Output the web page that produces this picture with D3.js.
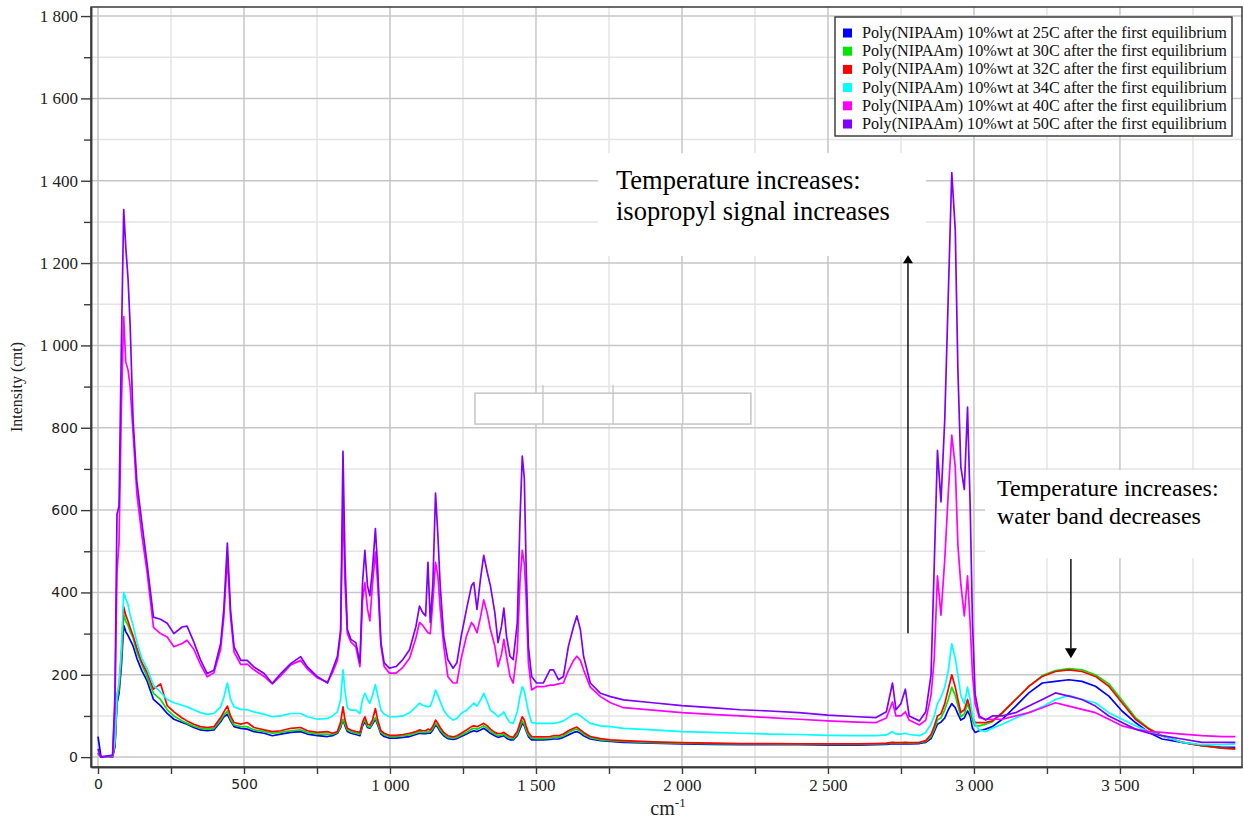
<!DOCTYPE html>
<html>
<head>
<meta charset="utf-8">
<script src="https://cdn.jsdelivr.net/npm/d3@7"></script>
<style>
  body { margin: 0; background: #fff; }
  svg { display: block; }
</style>
</head>
<body>
<svg id="chart" width="1244" height="819"></svg>
<script>
// Raman shift (cm-1) at which every spectrum below is sampled
const wavenumbers = [
  0, 10, 50, 58, 65, 72, 80, 88, 95, 103,
  110, 120, 133, 150, 168, 190, 214, 237, 260, 288,
  305, 328, 351, 374, 397, 420, 431, 443, 454, 466,
  489, 511, 534, 569, 597, 626, 660, 694, 717, 752,
  786, 803, 820, 831, 839, 846, 854, 866, 883, 897,
  906, 914, 923, 931, 940, 950, 958, 969, 980, 998,
  1021, 1044, 1067, 1089, 1101, 1112, 1122, 1130, 1138, 1147,
  1156, 1164, 1172, 1184, 1198, 1216, 1229, 1244, 1262, 1279,
  1287, 1298, 1310, 1321, 1333, 1344, 1359, 1370, 1382, 1390,
  1399, 1411, 1422, 1436, 1445, 1453, 1460, 1466, 1474, 1485,
  1502, 1525, 1548, 1560, 1577, 1594, 1611, 1629, 1640, 1652,
  1663, 1686, 1721, 1755, 1800, 1900, 2000, 2100, 2200, 2300,
  2400, 2500, 2600, 2665, 2700, 2721, 2733, 2750, 2765, 2778,
  2813, 2835, 2853, 2864, 2875, 2887, 2900, 2912, 2924, 2936,
  2945, 2955, 2967, 2978, 2987, 2995, 3004, 3018, 3040, 3063,
  3097, 3143, 3188, 3234, 3279, 3325, 3370, 3416, 3462, 3507,
  3553, 3599, 3644, 3713, 3781, 3850, 3895
];

// Intensity (cnt), one array per temperature
const intensity25C = [
  50, 2, 0, 25, 130, 155, 220, 320, 305, 295,
  285, 270, 240, 210, 185, 140, 125, 106, 92, 84,
  80, 72, 66, 64, 66, 86, 98, 104, 88, 74,
  70, 68, 62, 58, 52, 56, 60, 62, 56, 52,
  50, 52, 58, 72, 90, 76, 62, 58, 55, 52,
  76, 86, 72, 70, 80, 92, 78, 56, 50, 46,
  46, 48, 50, 55, 58, 57, 57, 58, 58, 66,
  78, 72, 62, 52, 45, 43, 45, 50, 56, 62,
  64, 62, 66, 70, 64, 58, 52, 48, 50, 52,
  46, 42, 42, 52, 68, 82, 76, 64, 50, 42,
  42, 42, 43, 44, 44, 48, 54, 60, 62, 58,
  52, 44, 40, 38, 36, 34, 32, 31, 30, 30,
  30, 29, 29, 30, 31, 33, 32, 32, 33, 32,
  33, 36, 45, 62, 80, 85, 95, 115, 130, 120,
  105, 90, 95, 112, 100, 70, 60, 64, 68, 74,
  92, 124, 156, 180, 184, 188, 184, 172, 148, 112,
  84, 60, 44, 36, 28, 24, 24
];
const intensity30C = [
  8, 0, 2, 30, 140, 165, 240, 345, 330, 320,
  305, 290, 255, 225, 195, 155, 140, 115, 100, 88,
  82, 75, 70, 68, 70, 90, 102, 112, 92, 78,
  74, 74, 66, 62, 58, 60, 64, 66, 60, 56,
  56, 55, 60, 75, 92, 80, 66, 62, 58, 56,
  80, 90, 75, 72, 84, 96, 82, 60, 54, 50,
  50, 52, 54, 58, 62, 60, 60, 62, 62, 70,
  82, 76, 66, 56, 48, 46, 48, 54, 60, 68,
  70, 68, 72, 76, 70, 62, 56, 52, 54, 56,
  50, 46, 45, 56, 74, 88, 80, 68, 54, 46,
  45, 45, 46, 48, 48, 52, 60, 66, 68, 62,
  56, 47, 42, 40, 38, 35, 34, 33, 32, 32,
  31, 31, 31, 32, 33, 35, 34, 34, 35, 34,
  35, 38, 50, 68, 90, 95, 115, 140, 170, 150,
  125, 98, 105, 130, 110, 88, 76, 76, 80, 86,
  106, 140, 172, 198, 210, 215, 212, 200, 178, 138,
  96, 70, 52, 36, 28, 22, 20
];
const intensity32C = [
  10, 0, 2, 30, 150, 170, 250, 365, 345, 330,
  315, 295, 265, 230, 205, 165, 178, 125, 110, 95,
  88, 80, 74, 72, 74, 96, 110, 124, 100, 84,
  80, 84, 72, 66, 62, 64, 70, 72, 64, 60,
  62, 58, 62, 85, 122, 90, 70, 66, 62, 60,
  85, 98, 80, 78, 90, 118, 90, 64, 58, 53,
  53, 55, 58, 62, 66, 64, 64, 68, 66, 75,
  90, 82, 72, 60, 52, 49, 52, 58, 66, 74,
  76, 74, 78, 82, 76, 68, 60, 57, 58, 60,
  55, 50, 48, 62, 82, 98, 90, 76, 60, 50,
  49, 49, 50, 52, 52, 56, 64, 70, 73, 66,
  60, 50, 45, 42, 40, 37, 35, 34, 33, 33,
  32, 32, 32, 33, 34, 36, 35, 35, 36, 35,
  36, 40, 55, 75, 100, 105, 130, 165, 200, 170,
  140, 108, 115, 140, 118, 95, 84, 84, 84, 88,
  108, 140, 172, 196, 208, 212, 208, 196, 172, 132,
  92, 68, 52, 36, 28, 22, 20
];
const intensity34C = [
  10, 0, 2, 40, 150, 180, 260, 400, 385, 370,
  345, 320, 280, 240, 215, 175, 158, 140, 132, 126,
  122, 115, 108, 104, 106, 122, 145, 180, 140, 122,
  116, 115, 110, 104, 98, 100, 106, 106, 98, 92,
  94, 100, 110, 140, 212, 160, 120, 114, 114, 106,
  140, 155, 140, 131, 150, 176, 150, 114, 104, 98,
  98, 100, 108, 122, 131, 126, 124, 122, 124, 140,
  163, 150, 135, 114, 100, 90, 94, 106, 114, 125,
  131, 124, 138, 155, 135, 114, 106, 98, 104, 110,
  96, 84, 82, 110, 147, 171, 160, 139, 110, 84,
  82, 82, 82, 82, 84, 88, 96, 104, 106, 100,
  94, 82, 76, 74, 70, 66, 62, 60, 58, 56,
  55, 53, 52, 52, 54, 62, 56, 56, 58, 55,
  52, 60, 80, 100, 130, 145, 170, 210, 275, 240,
  200, 150, 130, 170, 140, 100, 80, 66, 62, 70,
  80, 95, 108, 122, 140, 150, 140, 132, 108, 92,
  76, 62, 52, 36, 30, 30, 32
];
const intensity40C = [
  10, 0, 3, 120, 450, 520, 850, 1070, 960, 940,
  900, 790, 640, 540, 450, 315, 300, 292, 268, 276,
  284, 262, 225, 195, 205, 262, 340, 485, 340, 255,
  225, 226, 212, 196, 178, 198, 224, 235, 214, 192,
  182, 205, 235, 300, 624, 420, 300, 280, 268, 220,
  380, 424, 360, 331, 420, 498, 420, 270, 220, 204,
  204, 218, 240, 290, 327, 320, 310, 302, 300, 380,
  473, 440, 360, 270, 196, 180, 180, 240, 294, 327,
  320, 302, 340, 382, 350, 310, 270, 220, 250, 286,
  245, 196, 180, 260, 424, 502, 470, 392, 229, 163,
  171, 171, 175, 175, 178, 180, 210, 235, 245, 235,
  212, 170, 147, 132, 120, 114, 108, 104, 100, 96,
  92, 88, 85, 84, 95, 134, 100, 100, 110, 90,
  78, 90, 150, 240, 440, 345, 480, 640, 782, 705,
  515, 420, 343, 440, 324, 200, 130, 96, 92, 92,
  92, 100, 108, 120, 132, 124, 116, 108, 92, 76,
  68, 62, 60, 56, 52, 50, 50
];
const intensity50C = [
  20, 0, 5, 150, 590, 610, 1000, 1330, 1240, 1160,
  1050, 820, 670, 570, 470, 340, 335, 325, 300, 316,
  318, 280, 236, 203, 211, 276, 360, 520, 356, 268,
  235, 235, 219, 203, 179, 203, 227, 244, 219, 195,
  180, 212, 245, 310, 743, 473, 310, 286, 278, 229,
  424, 502, 416, 392, 457, 555, 457, 278, 229, 216,
  220, 237, 261, 318, 367, 351, 343, 473, 327, 424,
  641, 539, 416, 294, 237, 216, 229, 294, 359, 416,
  424, 359, 433, 490, 449, 416, 351, 278, 318, 362,
  294, 245, 237, 327, 571, 731, 678, 473, 269, 196,
  180, 180, 212, 212, 188, 196, 269, 318, 343, 310,
  245, 180, 155, 147, 139, 132, 125, 120, 115, 112,
  108, 102, 98, 96, 110, 180, 115, 130, 165, 100,
  88, 110, 200, 467, 745, 620, 820, 1120, 1420, 1280,
  940, 705, 650, 850, 610, 324, 153, 100, 90, 100,
  100, 108, 124, 140, 156, 148, 140, 124, 100, 84,
  68, 58, 52, 44, 36, 36, 36
];

const seriesNames = [
  "Poly(NIPAAm) 10%wt at 25C after the first equilibrium",
  "Poly(NIPAAm) 10%wt at 30C after the first equilibrium",
  "Poly(NIPAAm) 10%wt at 32C after the first equilibrium",
  "Poly(NIPAAm) 10%wt at 34C after the first equilibrium",
  "Poly(NIPAAm) 10%wt at 40C after the first equilibrium",
  "Poly(NIPAAm) 10%wt at 50C after the first equilibrium"
];
const seriesColors = ["#0000ff", "#00e600", "#ff0000", "#00ffff", "#ff00ff", "#7f00ff"];
const seriesValues = [intensity25C, intensity30C, intensity32C, intensity34C, intensity40C, intensity50C];

// Axis ticks
const xMajorTicks = [0, 500, 1000, 1500, 2000, 2500, 3000, 3500];
const xMinorTicks = [250, 750, 1250, 1750, 2250, 2750, 3250, 3750];
const yMajorTicks = [0, 200, 400, 600, 800, 1000, 1200, 1400, 1600, 1800];
const yMinorTicks = [100, 300, 500, 700, 900, 1100, 1300, 1500, 1700];

// Annotation texts
const noteIsopropyl = ["Temperature increases:", "isopropyl signal increases"];
const noteWater = ["Temperature increases:", "water band decreases"];

const svg = d3.select("#chart");
const W = 1244, H = 819;
const plot = { left: 91, right: 1242, top: 7, bottom: 767 };

const x = d3.scaleLinear().domain([-24, 3918]).range([plot.left, plot.right]);
const y = d3.scaleLinear().domain([-24, 1822]).range([plot.bottom, plot.top]);

const fmt = d3.formatLocale({ decimal: ".", thousands: " ", grouping: [3], currency: ["", ""] }).format(",");
const SERIF = "'Liberation Serif', 'Times New Roman', serif";
const SANS = "'DejaVu Sans', Verdana, sans-serif";

svg.append("rect").attr("width", W).attr("height", H).attr("fill", "#fff");

svg.append("defs").append("clipPath").attr("id", "plotClip")
  .append("rect")
  .attr("x", plot.left).attr("y", plot.top)
  .attr("width", plot.right - plot.left).attr("height", plot.bottom - plot.top);

// Grid: light lines at the minor steps, darker ones at the labelled steps
const grid = svg.append("g");
grid.selectAll(".vminor").data(xMinorTicks).join("line")
  .attr("x1", d => x(d)).attr("x2", d => x(d))
  .attr("y1", plot.top).attr("y2", plot.bottom)
  .attr("stroke", "#e4e4e4").attr("stroke-width", 1.5);
grid.selectAll(".hminor").data(yMinorTicks).join("line")
  .attr("x1", plot.left).attr("x2", plot.right)
  .attr("y1", d => y(d)).attr("y2", d => y(d))
  .attr("stroke", "#e4e4e4").attr("stroke-width", 1.5);
grid.selectAll(".vmajor").data(xMajorTicks).join("line")
  .attr("x1", d => x(d)).attr("x2", d => x(d))
  .attr("y1", plot.top).attr("y2", plot.bottom)
  .attr("stroke", "#c6c6c6").attr("stroke-width", 1.5);
grid.selectAll(".hmajor").data(yMajorTicks).join("line")
  .attr("x1", plot.left).attr("x2", plot.right)
  .attr("y1", d => y(d)).attr("y2", d => y(d))
  .attr("stroke", "#c6c6c6").attr("stroke-width", 1.5);

// White panels behind the two annotations
svg.append("rect")
  .attr("x", x(1712)).attr("y", y(1467))
  .attr("width", x(2836) - x(1712)).attr("height", y(1217) - y(1467))
  .attr("fill", "#fff");
svg.append("rect")
  .attr("x", x(3038)).attr("y", y(697))
  .attr("width", plot.right - x(3038)).attr("height", y(483) - y(697))
  .attr("fill", "#fff");

// Empty four-cell table
const table = svg.append("g");
table.append("rect")
  .attr("x", x(1291)).attr("y", y(884))
  .attr("width", x(2236) - x(1291)).attr("height", y(809) - y(884))
  .attr("fill", "#fff").attr("stroke", "#c4c4c4").attr("stroke-width", 1.5);
table.selectAll(".cell").data([1524, 1764, 2003]).join("line")
  .attr("x1", d => x(d)).attr("x2", d => x(d))
  .attr("y1", (d, i) => i < 2 ? y(904) : y(884)).attr("y2", y(809))
  .attr("stroke", "#c4c4c4").attr("stroke-width", 1.3);

// Spectra
const line = d3.line()
  .x((d, i) => x(wavenumbers[i]))
  .y(d => y(d));
const spectra = svg.append("g").attr("clip-path", "url(#plotClip)");
spectra.selectAll("path").data(seriesValues).join("path")
  .attr("d", d => line(d))
  .attr("fill", "none")
  .attr("stroke", (d, i) => seriesColors[i])
  .attr("stroke-width", 1.7)
  .attr("stroke-linejoin", "round");

// Annotation arrows
function arrow(xv, fromV, tipV, half, len) {
  const g = svg.append("g");
  const dir = tipV > fromV ? 1 : -1; // upward arrow when tip value is larger
  const xp = x(xv), yTip = y(tipV), yBase = yTip + dir * len;
  g.append("line")
    .attr("x1", xp).attr("x2", xp)
    .attr("y1", y(fromV)).attr("y2", yBase)
    .attr("stroke", "#000").attr("stroke-width", 1.4);
  g.append("path")
    .attr("d", `M${xp},${yTip} L${xp - half},${yBase} L${xp + half},${yBase} Z`)
    .attr("fill", "#000");
}
arrow(2774, 301, 1219, 5, 8);
arrow(3332, 481, 240, 6, 10);

// Annotation texts
const note1 = svg.append("text")
  .attr("font-family", SERIF).attr("font-size", 26.5).attr("fill", "#000");
note1.selectAll("tspan").data(noteIsopropyl).join("tspan")
  .attr("x", x(1774)).attr("y", (d, i) => y(1380) + i * 31)
  .text(d => d);
const note2 = svg.append("text")
  .attr("font-family", SERIF).attr("font-size", 24).attr("fill", "#000");
note2.selectAll("tspan").data(noteWater).join("tspan")
  .attr("x", x(3079)).attr("y", (d, i) => y(634) + i * 28)
  .text(d => d);

// Plot frame
svg.append("rect")
  .attr("x", plot.left).attr("y", plot.top)
  .attr("width", plot.right - plot.left).attr("height", plot.bottom - plot.top)
  .attr("fill", "none").attr("stroke", "#3a3a3a").attr("stroke-width", 1.5);

// Axes
const yAxis = svg.append("g").attr("transform", `translate(${plot.left},0)`)
  .call(d3.axisLeft(y).tickValues(yMajorTicks).tickSize(10).tickSizeOuter(0).tickPadding(3).tickFormat(fmt));
yAxis.append("g").call(d3.axisLeft(y).tickValues(yMinorTicks).tickSize(7).tickSizeOuter(0).tickFormat(""));
const xAxis = svg.append("g").attr("transform", `translate(0,${plot.bottom})`)
  .call(d3.axisBottom(x).tickValues(xMajorTicks).tickSize(7).tickSizeOuter(0).tickPadding(5).tickFormat(fmt));
xAxis.append("g").call(d3.axisBottom(x).tickValues(xMinorTicks).tickSize(7).tickSizeOuter(0).tickFormat(""));

[yAxis, xAxis].forEach(ax => {
  ax.selectAll(".domain").attr("stroke", "#3a3a3a").attr("stroke-width", 1.5);
  ax.selectAll(".tick line").attr("stroke", "#3a3a3a").attr("stroke-width", 1.4);
  ax.selectAll(".tick text")
    .attr("fill", "#222")
    .attr("font-family", d => d >= 1000 ? SERIF : SANS)
    .attr("font-size", d => d >= 1000 ? 17 : 14);
});

// Axis titles
svg.append("text")
  .attr("transform", `translate(22,${(plot.top + plot.bottom) / 2}) rotate(-90)`)
  .attr("text-anchor", "middle")
  .attr("font-family", SERIF).attr("font-size", 16).attr("fill", "#222")
  .text("Intensity (cnt)");
const xTitle = svg.append("text")
  .attr("x", 668).attr("y", 815)
  .attr("text-anchor", "middle")
  .attr("font-family", SERIF).attr("font-size", 20).attr("fill", "#222");
xTitle.append("tspan").text("cm");
xTitle.append("tspan").attr("font-size", 13).attr("dy", -8).text("-1");

// Legend
const legend = svg.append("g");
legend.append("rect")
  .attr("x", 835).attr("y", 17).attr("width", 397).attr("height", 119)
  .attr("fill", "#fff").attr("stroke", "#333").attr("stroke-width", 1.4);
const items = legend.selectAll(".item").data(seriesNames).join("g")
  .attr("transform", (d, i) => `translate(0,${33 + i * 18.2})`);
items.append("rect")
  .attr("x", 843).attr("y", -4.5).attr("width", 9).attr("height", 9)
  .attr("fill", (d, i) => seriesColors[i]);
items.append("text")
  .attr("x", 862).attr("y", 5)
  .attr("font-family", SERIF).attr("font-size", 16.2).attr("fill", "#111")
  .text(d => d);
</script>
</body>
</html>
